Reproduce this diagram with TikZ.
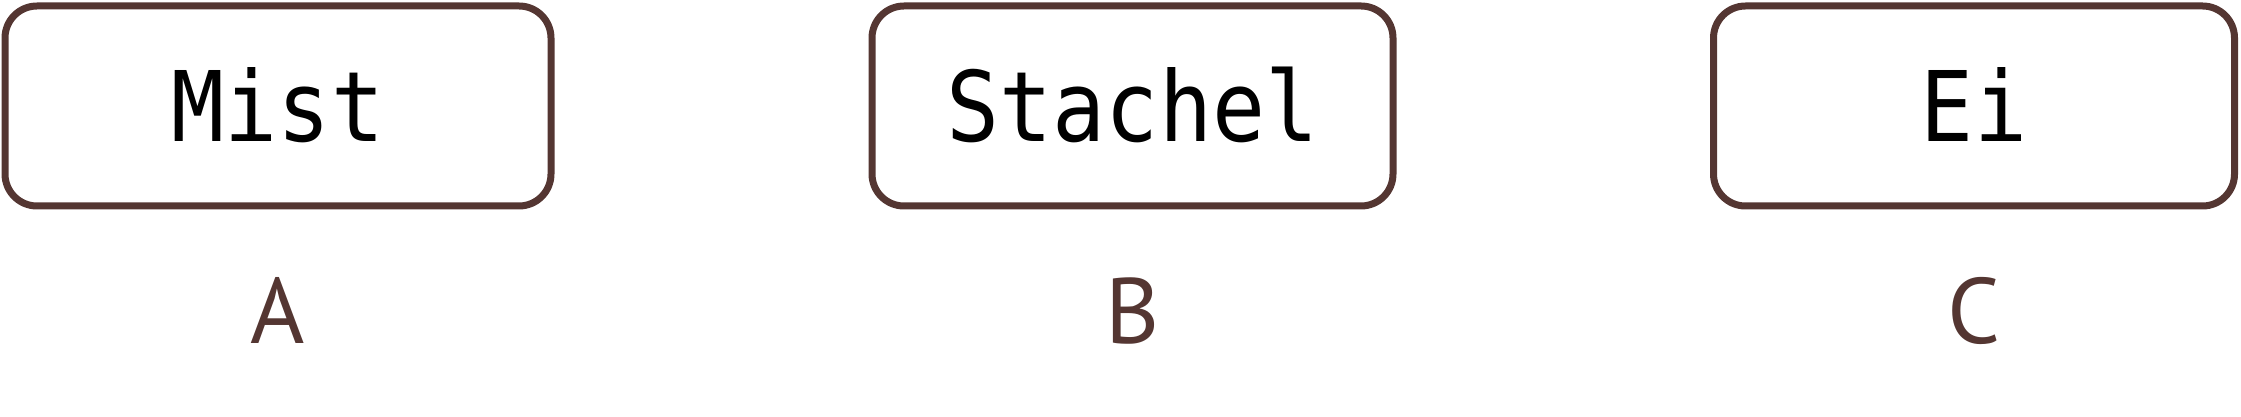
\documentclass[tikz,border=0pt]{standalone}
\usepackage{fontspec}
\newfontfamily\boxfont[FakeStretch=0.905]{DejaVu Sans Mono}
\newfontfamily\labfont{PT Sans}
\definecolor{brn}{HTML}{543632}
\begin{document}
\begin{tikzpicture}[x=1pt,y=1pt,
  wordbox/.style={draw=brn, line width=7pt, rounded corners=32pt, rectangle,
    minimum height=200pt, inner sep=0pt, text height=71pt, text depth=0pt,
    font=\boxfont\fontsize{97.4}{100}\selectfont, text=black},
  lab/.style={inner sep=0pt, text height=65pt, text depth=0pt, text=brn,
    font=\labfont\fontsize{92.9}{95}\selectfont}]
\useasboundingbox (0,0) rectangle (2241,417);
\node[wordbox, minimum width=546pt] (mist) at (278,311) {Mist};
\node[wordbox, minimum width=521pt] (stachel) at (1132.5,311) {Stachel};
\node[wordbox, minimum width=521pt] (ei) at (1974,311) {Ei};
\node[lab] (la) at (278,105.5) {A};
\node[lab] (lb) at (1133,105.5) {B};
\node[lab] (lc) at (1974,105.5) {C};
\end{tikzpicture}
\end{document}
